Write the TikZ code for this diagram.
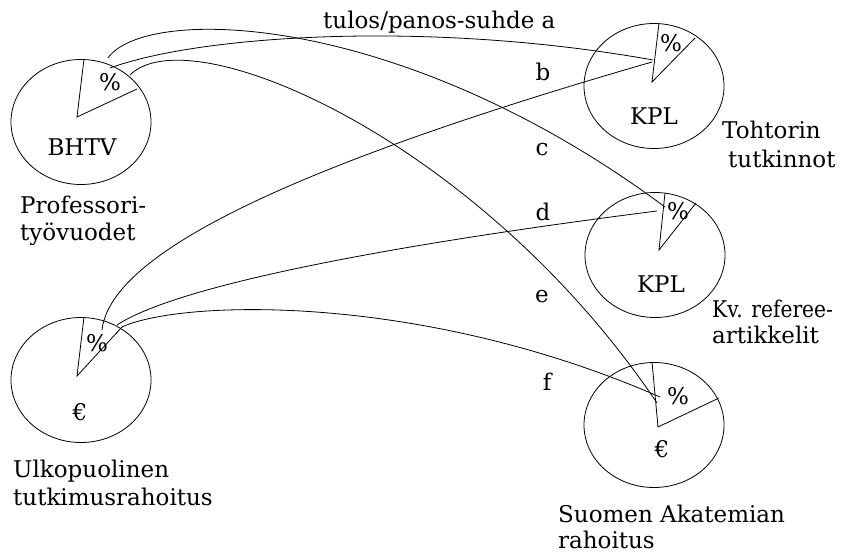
\documentclass[tikz,border=0pt]{standalone}
\usepackage{fontspec}
\setmainfont{DejaVu Serif}
\usetikzlibrary{shapes.geometric}
\begin{document}
\begin{tikzpicture}[x=1pt,y=-1pt,
  every node/.style={font=\fontsize{23}{27}\selectfont, inner sep=0pt},
  pie/.style={draw, ellipse, minimum width=140pt, minimum height=125pt, line width=0.8pt},
  wedge/.style={line width=0.8pt},
  conn/.style={line width=0.8pt},
  txt/.style={anchor=base west},
  ctxt/.style={anchor=base}]
\useasboundingbox (0,0) rectangle (842,552);

% pies
\node[pie] (p1) at (81,122) {};
\node[pie] (p2) at (654,86) {};
\node[pie] (p3) at (655,255) {};
\node[pie] (p4) at (654,425) {};
\node[pie] (p5) at (81,380) {};

% wedge vertices and ends
\coordinate (v1) at (77,117);  \coordinate (t1) at (84,59);  \coordinate (o1) at (137,89);
\coordinate (v2) at (652,82);  \coordinate (t2) at (659,23); \coordinate (o2) at (695,38);
\coordinate (v3) at (659,250); \coordinate (t3) at (665,193); \coordinate (o3) at (696,203);
\coordinate (v4) at (658,427); \coordinate (t4) at (652,362); \coordinate (o4) at (719,398);
\coordinate (v5) at (77,376);  \coordinate (t5) at (84,317); \coordinate (o5) at (122,327);
\foreach \i in {1,...,5}{\draw[wedge] (t\i) -- (v\i) -- (o\i);}

% texts in pies
\node (pc1) at (110,82) {\%};
\node (pc2) at (671,43) {\%};
\node (pc3) at (678,211) {\%};
\node (pc4) at (678,396) {\%};
\node (pc5) at (97,343) {\%};
\node[ctxt] (in1) at (82,155) {BHTV};
\node[ctxt] (in2) at (654,124) {KPL};
\node[ctxt] (in3) at (661,292) {KPL};
\node[ctxt] (in4) at (662,457) {€};
\node[ctxt] (in5) at (80,420) {€};

% connector end points
\coordinate (a1) at (110,68);  \coordinate (a2) at (653,60);
\coordinate (b1) at (102,330); \coordinate (b2) at (652,62);
\coordinate (c1) at (108,58);  \coordinate (c2) at (665,207);
\coordinate (d1) at (117,325); \coordinate (d2) at (657,211);
\coordinate (e1) at (130,75);  \coordinate (e2) at (657,403);
\coordinate (f1) at (122,327); \coordinate (f2) at (660,397);

\draw[conn] (a1) .. controls (200,35) and (430,20) .. (a2);
\draw[conn] (b1) .. controls (110,260) and (260,175) .. (b2);
\draw[conn] (c1) .. controls (145,5) and (400,10) .. (c2);
\draw[conn] (d1) .. controls (170,290) and (350,250) .. (d2);
\draw[conn] (e1) .. controls (190,15) and (480,140) .. (e2);
\draw[conn] (f1) .. controls (180,300) and (420,292) .. (f2);

% connector labels
\node[txt] (la) at (323,28) {tulos/panos-suhde a};
\node[ctxt] (lb) at (543,80) {b};
\node[ctxt] (lc) at (542,155) {c};
\node[ctxt] (ld) at (543,220) {d};
\node[ctxt] (le) at (542,302) {e};
\node[ctxt] (lf) at (547,390) {f};

% captions
\node[txt] (cap1a) at (20,213) {Professori-};
\node[txt] (cap1b) at (20,240) {työvuodet};
\node[txt] (cap2a) at (722,138) {Tohtorin};
\node[txt] (cap2b) at (728,167) {tutkinnot};
\node[txt] (cap3a) at (712,317) {\scalebox{0.88}[1]{Kv. referee-}};
\node[txt] (cap3b) at (712,343) {artikkelit};
\node[txt] (cap4a) at (558,522) {Suomen Akatemian};
\node[txt] (cap4b) at (558,548) {rahoitus};
\node[txt] (cap5a) at (13,477) {Ulkopuolinen};
\node[txt] (cap5b) at (13,505) {tutkimusrahoitus};
\end{tikzpicture}
\end{document}
